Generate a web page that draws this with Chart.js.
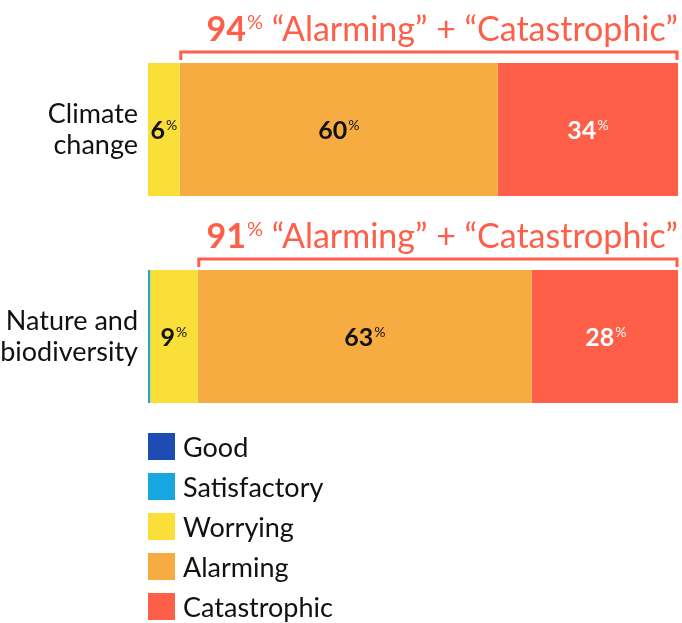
<!DOCTYPE html>
<html>
<head>
<meta charset="utf-8">
<script src="https://cdn.jsdelivr.net/npm/chart.js@4.4.1/dist/chart.umd.min.js"></script>
<style>
  html, body { margin: 0; padding: 0; background: #ffffff; }
  #wrap { width: 682px; height: 623px; position: relative; }
</style>
</head>
<body>
<div id="wrap"><canvas id="chart" width="682" height="623"></canvas></div>
<script>
// Categories (multi-line axis labels)
const categories = [['Climate', 'change'], ['Nature and', 'biodiversity']];

// Share of answers per rating, in percent
const seriesNames = ['Good', 'Satisfactory', 'Worrying', 'Alarming', 'Catastrophic'];
const good = [0, 0];
const satisfactory = [0, 0.4];
const worrying = [6, 9];
const alarming = [60, 63];
const catastrophic = [34, 28];

const seriesColors = ['#1D4CB3', '#17A7E1', '#FADF38', '#F6AC41', '#FF5E48'];
const labelColors = [null, null, '#111111', '#111111', '#ffffff'];
const accent = '#FF5E48';
const FONT = 'Lato, "Noto Sans", sans-serif';

const seriesValues = [good, satisfactory, worrying, alarming, catastrophic];

// Bold number followed by a small raised percent sign, centred or right-aligned at x
function drawPercent(ctx, value, x, y, opts) {
  const big = 'bold ' + opts.size + 'px ' + FONT;
  const small = 'normal ' + Math.round(opts.size * 0.58) + 'px ' + FONT;
  ctx.font = big;
  const w1 = ctx.measureText(String(value)).width;
  ctx.font = small;
  const w2 = ctx.measureText('%').width;
  const total = w1 + w2 + 1;
  let start = opts.align === 'right' ? x - total : x - total / 2;
  ctx.textBaseline = 'alphabetic';
  ctx.textAlign = 'left';
  ctx.fillStyle = opts.color;
  ctx.font = big;
  ctx.fillText(String(value), start, y);
  ctx.font = small;
  ctx.fillText('%', start + w1 + 1, y - opts.size * 0.36);
  return total;
}

const overlayPlugin = {
  id: 'overlay',
  afterDatasetsDraw(chart) {
    const ctx = chart.ctx;
    const xs = chart.scales.x;
    ctx.save();

    // values inside the segments
    chart.data.datasets.forEach((ds, i) => {
      if (!labelColors[i]) return;
      const meta = chart.getDatasetMeta(i);
      meta.data.forEach((bar, j) => {
        const v = ds.data[j];
        if (v < 3) return;
        const cx = (bar.x + bar.base) / 2;
        drawPercent(ctx, v, cx, bar.y + 9, { size: 25, color: labelColors[i], align: 'center' });
      });
    });

    // bracket + heading over the "Alarming" and "Catastrophic" segments
    const metaA = chart.getDatasetMeta(3);
    categories.forEach((c, j) => {
      const bar = metaA.data[j];
      const top = bar.y - bar.height / 2;
      const x0 = xs.getPixelForValue(good[j] + satisfactory[j] + worrying[j]) + 1;
      const x1 = xs.getPixelForValue(good[j] + satisfactory[j] + worrying[j] + alarming[j] + catastrophic[j]) - 1;
      const x1c = Math.min(x1, chart.chartArea.right - 1);
      ctx.strokeStyle = accent;
      ctx.lineWidth = 3;
      ctx.lineJoin = 'miter';
      ctx.beginPath();
      ctx.moveTo(x0, top - 3);
      ctx.lineTo(x0, top - 11);
      ctx.lineTo(x1c, top - 11);
      ctx.lineTo(x1c, top - 3);
      ctx.stroke();

      const total = alarming[j] + catastrophic[j];
      const rest = ' \u201CAlarming\u201D + \u201CCatastrophic\u201D';
      const base = top - 22;
      const size = 34;
      ctx.font = size + 'px ' + FONT;
      const wRest = ctx.measureText(rest).width;
      const right = chart.chartArea.right;
      ctx.fillStyle = accent;
      ctx.textAlign = 'left';
      ctx.textBaseline = 'alphabetic';
      ctx.fillText(rest, right - wRest, base);
      drawPercent(ctx, total, right - wRest, base, { size: size, color: accent, align: 'right' });
    });

    // legend, one rating per row
    chart.data.datasets.forEach((ds, i) => {
      const y = 433 + i * 40;
      ctx.fillStyle = ds.backgroundColor;
      ctx.fillRect(148, y, 27, 27);
      ctx.fillStyle = '#111111';
      ctx.font = '27px ' + FONT;
      ctx.textAlign = 'left';
      ctx.textBaseline = 'middle';
      ctx.fillText(ds.label, 183, y + 15);
    });
    ctx.restore();
  }
};

new Chart(document.getElementById('chart'), {
  type: 'bar',
  data: {
    labels: categories,
    datasets: seriesNames.map((name, i) => ({
      label: name,
      data: seriesValues[i],
      backgroundColor: seriesColors[i],
      borderWidth: 0,
      barPercentage: 1,
      categoryPercentage: 0.643
    }))
  },
  options: {
    indexAxis: 'y',
    responsive: false,
    animation: false,
    layout: { padding: { top: 26, bottom: 183, left: 0, right: 4 } },
    plugins: {
      legend: { display: false },
      tooltip: { enabled: false }
    },
    scales: {
      x: {
        stacked: true,
        min: 0,
        max: 100,
        display: false
      },
      y: {
        stacked: true,
        grid: { display: false, drawTicks: false },
        border: { display: false },
        ticks: {
          color: '#111111',
          padding: 10,
          font: { family: FONT, size: 27, lineHeight: 1.15 }
        },
        afterFit(scale) {
          scale.width = 148;
          scale.paddingTop = 0;
          scale.paddingBottom = 0;
        }
      }
    }
  },
  plugins: [overlayPlugin]
});
</script>
</body>
</html>
